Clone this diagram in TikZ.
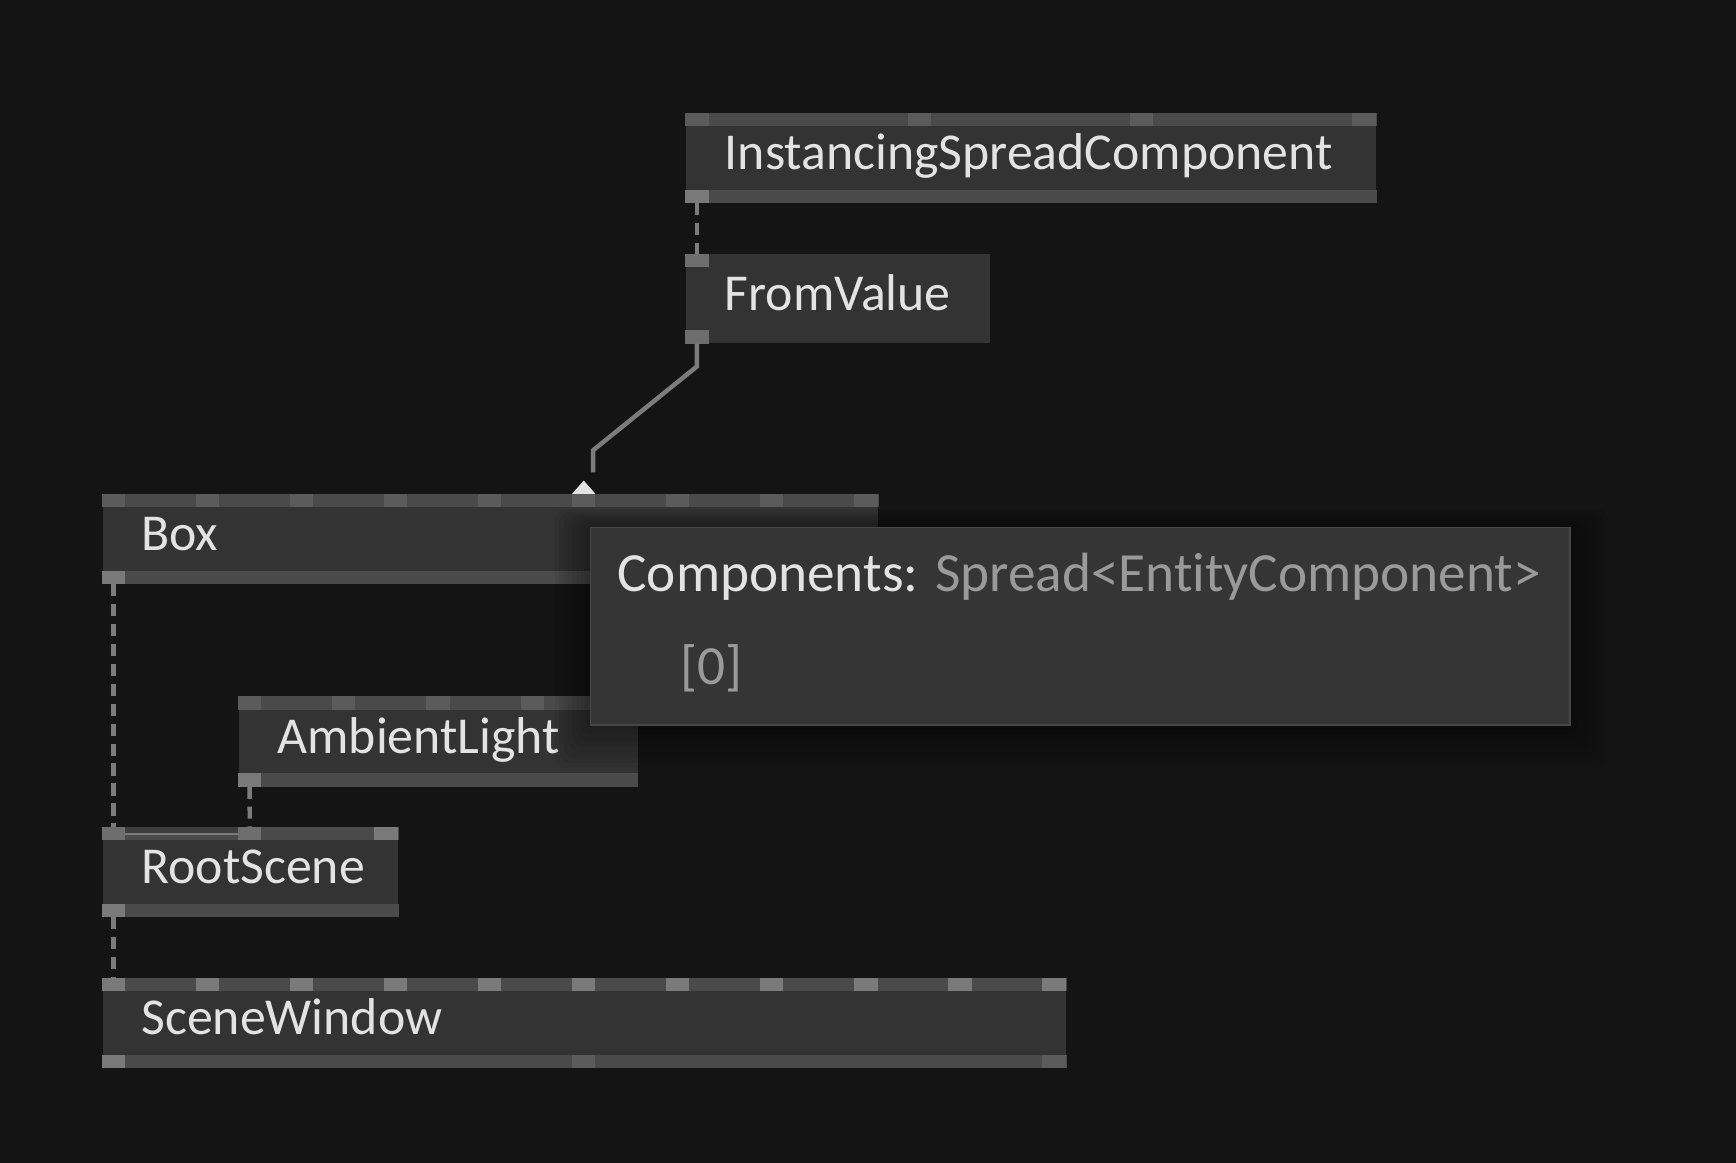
\documentclass[tikz,border=0pt]{standalone}
\usepackage{fontspec}
\setmainfont{Carlito}[Ligatures=NoCommon]

\begin{document}
\begin{tikzpicture}[x=0.01cm, y=-0.01cm,
    nodebox/.style={fill=bodyColour, inner sep=0pt, anchor=north west, minimum height=0.8cm},
    nodetext/.style={anchor=base west, inner sep=0pt, text=textColour, font=\fontsize{13.3}{16}\selectfont},
    bar/.style={fill=barColour},
    portbox/.style={fill=portColour},
    portlit/.style={fill=portLitColour},
    portmid/.style={fill=portMidColour},
    link/.style={draw=linkColour, line width=0.04cm},
    dlink/.style={draw=linkColour, line width=0.04cm, dash pattern=on 0.11cm off 0.07cm},
    tooltip/.style={fill=tipFill, draw=tipBorder, line width=0.012cm, inner sep=0pt, anchor=north west},
    tiptext/.style={anchor=base west, inner sep=0pt, text=textColour, font=\fontsize{14.2}{17}\selectfont}]
    \definecolor{bgColour}{HTML}{141414}
    \definecolor{bodyColour}{HTML}{333333}
    \definecolor{barColour}{HTML}{4A4A4A}
    \definecolor{portColour}{HTML}{5B5B5B}
    \definecolor{portMidColour}{HTML}{6E6E6E}
    \definecolor{portLitColour}{HTML}{7A7A7A}
    \definecolor{bandColour}{HTML}{3D3D3D}
    \definecolor{linkColour}{HTML}{7C7C7C}
    \definecolor{textColour}{HTML}{E3E3E3}
    \definecolor{typeColour}{HTML}{9A9A9A}
    \definecolor{tipFill}{HTML}{353535}
    \definecolor{tipBorder}{HTML}{474747}

    % Background
    \fill[bgColour] (0,0) rectangle (1568,1050);

    % InstancingSpreadComponent
    \node[nodebox, minimum width=6.23cm] (isc) at (619,102) {};
    \fill[bar] (isc.north west) rectangle ([yshift=-0.12cm]isc.north east);
    \fill[bar] (isc.south west) rectangle ([yshift=0.12cm]isc.south east);
    \foreach \i in {0,...,3}
        \fill[portbox] ([xshift=\i*2.007cm]isc.north west) rectangle ++(21,12);
    \fill[portlit] (isc.south west) rectangle ++(21,-12);
    \node[nodetext] (isc-label) at ([shift={(35,10.6)}]isc.west) {InstancingSpreadComponent};

    % FromValue
    \node[nodebox, minimum width=2.74cm] (fromvalue) at (619,229) {};
    \fill[portmid] (fromvalue.north west) rectangle ++(21,12);
    \fill[portmid] (fromvalue.south west) rectangle ++(21,-12);
    \node[nodetext] (fromvalue-label) at ([shift={(35,10.6)}]fromvalue.west) {FromValue};

    % Box
    \node[nodebox, minimum width=7.00cm] (box) at (92,446) {};
    \fill[bar] (box.north west) rectangle ([yshift=-0.12cm]box.north east);
    \fill[bar] (box.south west) rectangle ([yshift=0.12cm]box.south east);
    \foreach \i in {0,...,8}
        \fill[portbox] ([xshift=\i*0.849cm]box.north west) rectangle ++(21,12);
    \fill[portlit] (box.south west) rectangle ++(21,-12);
    \node[nodetext] (box-label) at ([shift={(35,10.6)}]box.west) {Box};

    % AmbientLight
    \node[nodebox, minimum width=3.60cm] (ambient) at (215,629) {};
    \fill[bar] (ambient.north west) rectangle ([yshift=-0.12cm]ambient.north east);
    \fill[bar] (ambient.south west) rectangle ([yshift=0.12cm]ambient.south east);
    \foreach \i in {0,...,4}
        \fill[portbox] ([xshift=\i*0.85cm]ambient.north west) rectangle ++(21,12);
    \fill[portlit] (ambient.south west) rectangle ++(21,-12);
    \node[nodetext] (ambient-label) at ([shift={(35,10.6)}]ambient.west) {AmbientLight};

    % RootScene
    \node[nodebox, minimum width=2.67cm] (root) at (92,747) {};
    \fill[bar] (root.north west) rectangle ([yshift=-0.12cm]root.north east);
    \fill[bar] (root.south west) rectangle ([yshift=0.12cm]root.south east);
    \fill[bandColour] ([xshift=0.21cm]root.north west) rectangle ++(102,5);
    \draw[portLitColour, line width=0.025cm] ([shift={(21,6.2)}]root.north west) -- ++(102,0);
    \fill[portmid] (root.north west) rectangle ++(21,12);
    \fill[portmid] ([xshift=1.23cm]root.north west) rectangle ++(21,12);
    \fill[portlit] ([xshift=2.46cm]root.north west) rectangle ++(21,12);
    \fill[portlit] (root.south west) rectangle ++(21,-12);
    \node[nodetext] (root-label) at ([shift={(35,10.6)}]root.west) {RootScene};

    % SceneWindow
    \node[nodebox, minimum width=8.70cm] (window) at (92,883) {};
    \fill[bar] (window.north west) rectangle ([yshift=-0.12cm]window.north east);
    \fill[bar] (window.south west) rectangle ([yshift=0.12cm]window.south east);
    \foreach \i in {0,...,10}
        \fill[portlit] ([xshift=\i*0.849cm]window.north west) rectangle ++(21,12);
    \fill[portlit] (window.south west) rectangle ++(21,-12);
    \fill[portbox] ([xshift=4.245cm]window.south west) rectangle ++(21,-12);
    \fill[portbox] ([xshift=8.49cm]window.south west) rectangle ++(21,-12);
    \node[nodetext] (window-label) at ([shift={(35,10.6)}]window.west) {SceneWindow};

    % Draw links
    \coordinate (box-end) at ([shift={(443.8,-19.4)}]box.north west);
    \draw[dlink] ([xshift=0.105cm]isc.south west) -- ([xshift=0.105cm]fromvalue.north west);
    \draw[link] ([xshift=0.105cm]fromvalue.south west) -- ++(0,20.5) -- ([yshift=0.2cm]box-end) -- (box-end);
    \draw[dlink] ([xshift=0.105cm]box.south west) -- ([xshift=0.105cm]root.north west);
    \draw[dlink] ([xshift=0.105cm]ambient.south west) -- ([xshift=1.335cm]root.north west);
    \draw[dlink] ([xshift=0.105cm]root.south west) -- ([xshift=0.105cm]window.north west);

    % Input marker on Box
    \fill[textColour] ([xshift=4.245cm]box.north west) -- ++(10.5,-12) -- ++(10.5,12) -- cycle;

    % Tooltip with shadow
    \foreach \k in {1,...,8}
        \fill[black, opacity=0.05, rounded corners=0.1cm] (533-\k*4, 476-\k*2) rectangle (1417+\k*4.5, 654+\k*5);
    \node[tooltip, minimum width=8.84cm, minimum height=1.78cm] (tip) at (533,476) {};
    \node[tiptext] (tip-title) at ([shift={(24,57.8)}]tip.north west) {Components: \textcolor{typeColour}{Spread<EntityComponent>}};
    \node[tiptext, text=typeColour] (tip-index) at ([shift={(81,142)}]tip.north west) {[0]};

\end{tikzpicture}
\end{document}
